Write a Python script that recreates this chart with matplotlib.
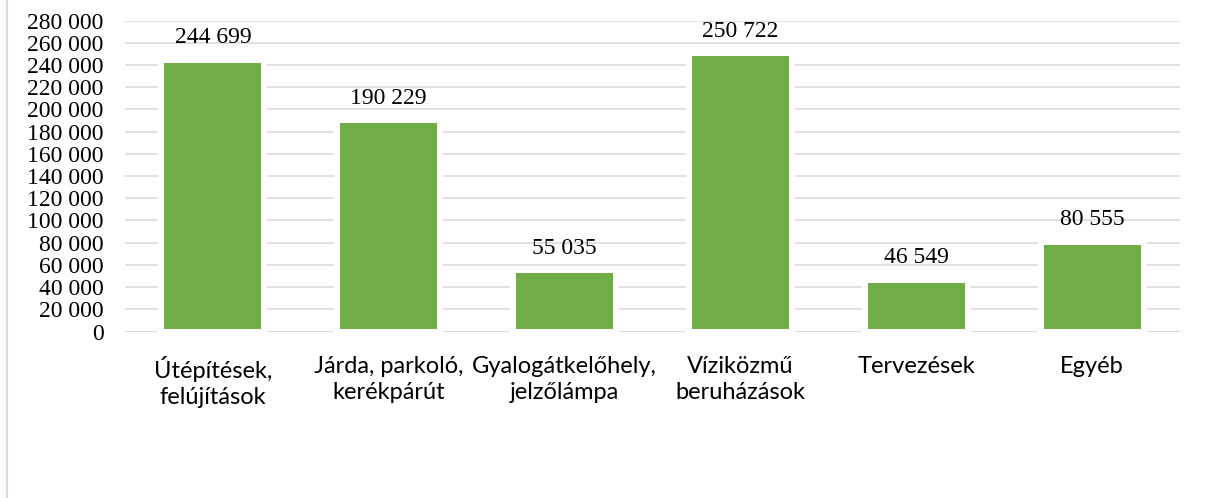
import matplotlib
matplotlib.use("Agg")
import matplotlib.pyplot as plt
from matplotlib.lines import Line2D

categories = ["Útépítések,\nfelújítások", "Járda, parkoló,\nkerékpárút",
              "Gyalogátkelőhely,\njelzőlámpa", "Víziközmű\nberuházások",
              "Tervezések", "Egyéb"]
values = [244699, 190229, 55035, 250722, 46549, 80555]
yticks = list(range(0, 280001, 20000))

def fmt(v):
    return f"{v:,}".replace(",", " ")

fig = plt.figure(figsize=(12.06, 4.98), dpi=100)
ax = fig.add_axes([125/1206, 166.5/498, (1180-125)/1206, (331.5-20.7)/498])

ax.set_ylim(0, 280000)
ax.set_xlim(-0.5, len(categories) - 0.5)
ax.set_yticks(yticks)
ax.set_yticklabels([fmt(t) for t in yticks], fontfamily="Liberation Serif", fontsize=17)
ax.yaxis.grid(True, color="#D9D9D9", linewidth=1.1)
ax.set_axisbelow(True)
for s in ax.spines.values():
    s.set_visible(False)
ax.axhline(0, color="#D9D9D9", linewidth=1.4, zorder=1)
ax.tick_params(axis="y", length=0, pad=15.5)
ax.tick_params(axis="x", length=0, pad=17.5)

x = list(range(len(categories)))
ax.bar(x, values, width=0.585, color="#70AD47", edgecolor="white", linewidth=4.3, zorder=2)
ax.set_xticks(x)
ax.set_xticklabels(categories, fontfamily="Lato", fontsize=17, linespacing=1.33)

for xi, v in zip(x, values):
    ax.annotate(fmt(v), (xi, v), xytext=(0, 12), textcoords="offset points",
                ha="center", va="baseline", fontfamily="Liberation Serif", fontsize=17, zorder=3)

fig.add_artist(Line2D([7/1206, 7/1206], [0, 1], transform=fig.transFigure,
                      color="#D9D9D9", linewidth=1.5))

fig.savefig("out.png", dpi=100)
